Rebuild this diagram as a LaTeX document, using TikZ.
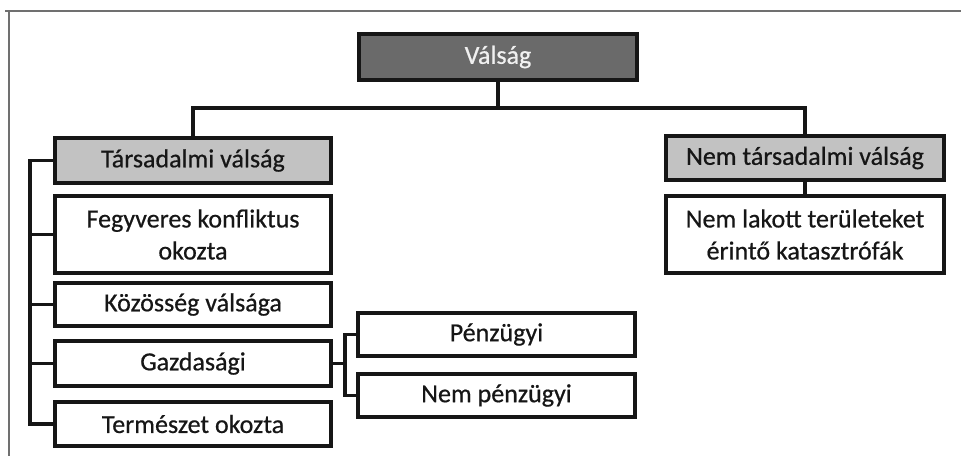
\documentclass[tikz,border=0pt]{standalone}
\usepackage{fontspec}
\setmainfont{Carlito}[FakeBold=0.6]
\definecolor{dark}{HTML}{6A6A6A}
\definecolor{light}{HTML}{C2C2C2}
\definecolor{ink}{HTML}{161616}
\definecolor{framec}{HTML}{707070}
\begin{document}
\begin{tikzpicture}[x=1pt,y=-1pt,
  box/.style={draw=ink, line width=3.3pt, fill=white, minimum width=276pt, minimum height=45pt,
    font=\fontsize{26}{32}\selectfont, text=ink, align=center, inner sep=0pt},
  topbox/.style={box, fill=dark, text=white!94!black},
  catbox/.style={box, fill=light},
  conn/.style={draw=ink, line width=3.3pt},
  framel/.style={draw=framec, line width=1.5pt}]
\useasboundingbox (0,0) rectangle (961,456);
\draw[framel] (5,11) -- (961,11);
\draw[framel] (9,11) -- (9,456);

\node[topbox, minimum width=278pt, minimum height=46pt] (valsag) at (498,57) {Válság};
\node[catbox] (tars) at (193,160.5) {Társadalmi válság};
\node[box, minimum height=77pt] (fegy) at (193,234.5) {Fegyveres konfliktus\\okozta};
\node[box, minimum height=43pt] (kozos) at (193,304.5) {Közösség válsága};
\node[box] (gazd) at (193,363.5) {Gazdasági};
\node[box, minimum height=44pt] (term) at (193,424) {Természet okozta};
\node[box, minimum width=277pt, minimum height=43pt] (penz) at (496.5,334.5) {Pénzügyi};
\node[box, minimum width=277pt, minimum height=43pt] (nempenz) at (496.5,395.5) {Nem pénzügyi};
\node[catbox, minimum width=278pt, minimum height=44pt] (nemtars) at (805,158) {Nem társadalmi válság};
\node[box, minimum width=278pt, minimum height=77pt] (nemlak) at (805,234.5) {Nem lakott területeket\\érintő katasztrófák};

\coordinate (hy) at (0,108);
\coordinate (ls) at (30,0);
\coordinate (gs) at (345,0);

\draw[conn] (valsag.south) -- (valsag.south |- hy);
\draw[conn] (tars.north) |- (nemtars.north |- hy) -- (nemtars.north);
\draw[conn] (nemtars.south) -- (nemlak.north);

\draw[conn] (tars.west) -- (tars.west -| ls) |- (term.west);
\draw[conn] (fegy.west -| ls) -- (fegy.west);
\draw[conn] (kozos.west -| ls) -- (kozos.west);
\draw[conn] (gazd.west -| ls) -- (gazd.west);

\draw[conn] (gazd.east) -- (gazd.east -| gs);
\draw[conn] (penz.west) -- (penz.west -| gs) |- (nempenz.west);
\end{tikzpicture}
\end{document}
